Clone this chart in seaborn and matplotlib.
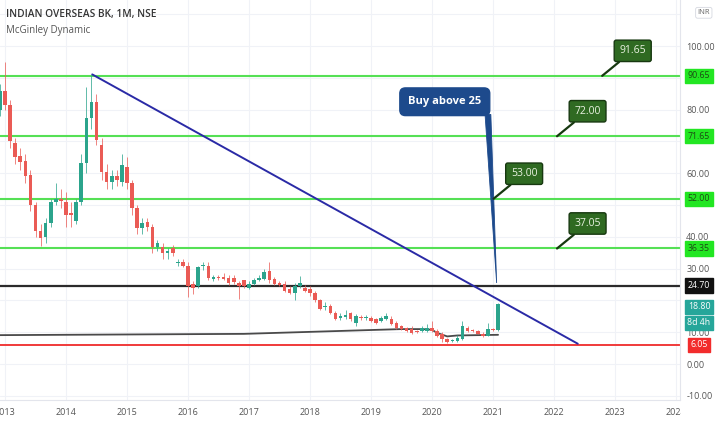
import numpy as np
import pandas as pd
import matplotlib
matplotlib.use("Agg")
import matplotlib.pyplot as plt
from matplotlib.patches import Polygon, Rectangle
import matplotlib.transforms as mtransforms
import seaborn as sns

# monthly candles, Dec 2012 .. Feb 2021
months = pd.period_range("2012-12", "2021-02", freq="M")
opens = [80, 86, 81.5, 69.5, 65.5, 64, 59.5, 50, 42, 40, 44.3, 51, 51.8,
         51, 47.6, 45, 51, 63.3, 77.5, 82.3, 69, 60.4, 57.3, 59, 57.3,
         62, 57, 49, 42.7, 44.6, 43, 36.7, 36.7, 34.8, 36.5, 31.8, 32,
         31, 25.3, 24.7, 30.8, 31, 26.8, 27.2, 27.4, 27, 27, 25.6, 26.3,
         24, 25.3, 26.3, 26.9, 29.4, 26.9, 25.3, 25.3, 23.7, 22.5, 24.7, 24,
         23.7, 22.5, 20, 17.8, 18.4, 16.1, 14.6, 14.9, 16.1, 13, 14.8, 14.5,
         14.6, 14.2, 13.6, 14.2, 14.2, 13, 12, 11.4, 11.1, 10.4, 10.4, 10.4,
         11.4, 10.4, 9.5, 7.9, 7.2, 7.3, 7.9, 11.4, 10.6, 10.4, 9.5, 8.9,
         11, 10.8]
highs = [88, 95, 83, 71, 68, 66, 61, 51, 44, 46, 52, 57, 55,
         54, 51, 52, 66, 87, 91, 85, 71, 63, 61, 61, 66,
         65, 58, 50, 46, 46, 44, 39, 38, 36.5, 37.5, 33, 33,
         32, 26, 31, 32, 32, 28, 28, 28.5, 28, 28, 26, 26.5,
         26, 27, 28, 30, 32, 27.5, 26, 26, 24.5, 25.5, 27.8, 25,
         24.5, 23, 20.5, 19.5, 19, 16.8, 16, 17, 16.5, 15.8, 15.5, 15.5,
         15, 14.6, 15, 16, 15, 13.4, 12.4, 11.8, 12, 10.8, 12, 12.5,
         13.5, 11, 10, 8.3, 8, 9, 13.6, 12, 11, 10.8, 10, 13,
         11.5, 19.2]
lows = [78, 80, 68, 63, 61, 57, 48, 40, 37, 38, 43, 50, 49,
        43, 43, 44, 50, 60, 74, 69, 58, 55, 55, 56, 56,
        55, 47, 41, 41, 42, 35, 35.5, 33, 33, 34, 31, 30.5,
        21, 22, 24, 29.5, 26.5, 26, 26.5, 26.5, 25, 25.2, 20.6, 24,
        23.5, 25, 26, 26.5, 25.5, 25, 24.5, 22.8, 22, 20, 24, 22.8,
        21.5, 19.5, 17, 17, 15.8, 13.8, 14, 14.2, 13.5, 12, 14, 14,
        13.2, 12.6, 13.2, 14, 12.3, 11, 10.8, 10, 9.5, 9.7, 10.1, 10,
        10, 8.6, 6.8, 6.6, 6.9, 7, 7.6, 10, 10.2, 9.3, 8.6, 8.7,
        10.3, 10.5]
closes = [86, 81.5, 70, 65, 63.5, 59, 50, 42, 39.5, 44.3, 51, 52, 51.3,
          47, 47, 51, 63.3, 77.5, 82.3, 70.6, 60.4, 57.3, 59, 58, 62.5,
          57, 49, 42.7, 44.3, 43, 36.7, 38, 34.8, 35.5, 35, 32.2, 31,
          24.7, 24, 30.4, 31.2, 27.2, 27.4, 27, 26.8, 25.6, 25.8, 24.7, 24.7,
          25.3, 26.3, 27.2, 28.8, 26.3, 25.3, 24.9, 23.1, 22.5, 24.7, 25.6, 23.1,
          22.2, 20, 17.4, 18.2, 16.1, 14.2, 15.2, 15.5, 14.2, 15.2, 14.5, 14.9,
          13.6, 13, 14.6, 15.2, 12.7, 11.4, 11.1, 10.4, 9.8, 10, 11.4, 11.4,
          10.4, 8.9, 7.9, 7, 7.6, 8.2, 12, 10.4, 10.4, 9.5, 8.9, 11,
          10.6, 18.8]

# McGinley Dynamic line (vertices)
mcg_months = ["2012-12", "2016-12", "2019-07", "2019-11", "2020-01",
              "2020-02", "2020-04", "2020-06", "2021-02"]
mcg_values = [9.1, 9.5, 11.0, 11.0, 10.8, 9.8, 8.7, 9.0, 9.2]

# horizontal levels and callouts
green_levels = [90.65, 71.65, 52.00, 36.35]
green_labels = ["90.65", "71.65", "52.00", "36.35"]
callout_labels = ["91.65", "72.00", "53.00", "37.05"]
callout_years = [2022.79, 2022.05, 2021.01, 2022.05]
black_level = 24.70
red_level = 6.05
last_price = 18.80

# falling trendline
trend_years = [2014.43, 2022.39]
trend_values = [91.1, 6.4]

year_ticks = list(range(2013, 2025))
price_ticks = [100, 80, 60, 40, 30, 10, 0, -10]

UP = "#2BA48C"
DN = "#EA5B55"
LIME = "#55E055"


def to_year(p):
    p = pd.Period(p, freq="M")
    return p.year + (p.month - 1) / 12


df = pd.DataFrame({"t": [to_year(m) for m in months], "open": opens,
                   "high": highs, "low": lows, "close": closes})
df["col"] = np.where(df["close"] >= df["open"], UP, DN)
df["bot"] = df[["open", "close"]].min(axis=1)
df["h"] = (df["close"] - df["open"]).abs().clip(lower=0.45)

sns.set_theme(style="white")
plt.rcParams["font.family"] = ["Open Sans", "DejaVu Sans"]

fig = plt.figure(figsize=(7.2, 4.24), dpi=100)
ax = fig.add_axes([0, 24 / 424, 680 / 720, 400 / 424])

ax.set_xlim(2012.918, 2024.066)
ax.set_ylim(-11.3, 114.5)

# grid
for y in range(-10, 111, 10):
    ax.axhline(y, color="#F0F2F7", lw=0.8, zorder=0)
for x in year_ticks:
    ax.axvline(x, color="#F0F2F7", lw=0.8, zorder=0)

# candles
ax.vlines(df["t"], df["low"], df["high"], colors=df["col"], lw=0.7, alpha=0.75, zorder=3)
ax.bar(df["t"], df["h"], bottom=df["bot"], width=0.058, color=df["col"], linewidth=0, zorder=4)

# McGinley
mcg = pd.DataFrame({"t": [to_year(m) for m in mcg_months], "v": mcg_values})
sns.lineplot(data=mcg, x="t", y="v", ax=ax, color="#4A4A4A", lw=1.3, zorder=2)

# levels
for lv in green_levels:
    ax.axhline(lv, color=LIME, lw=1.5, zorder=2)
ax.axhline(black_level, color="#2B2B2B", lw=1.6, zorder=2)
ax.axhline(red_level, color="#F03A3A", lw=1.4, zorder=2)

# trendline
ax.plot(trend_years, trend_values, color="#2A2AA6", lw=1.4, zorder=5)

# green callouts
for lab, yr, lv in zip(callout_labels, callout_years, green_levels):
    ax.annotate(lab, xy=(yr, lv), xytext=(22, 18), textcoords="offset points",
                ha="center", va="center", fontsize=7.5, color="#EAF3E2",
                bbox=dict(boxstyle="round,pad=0.5,rounding_size=0.2",
                          fc="#2F6A22", ec="#173810", lw=1.0),
                arrowprops=dict(arrowstyle="-", color="#173810", lw=1.6,
                                shrinkA=0, shrinkB=0), zorder=8)

# "Buy above 25" callout with a wedge pointer
ax.add_patch(Polygon([(2020.87, 78.5), (2020.965, 78.5), (2021.06, 25.5)],
                     closed=True, fc="#1D4A8C", ec="#1D4A8C", lw=0.6, zorder=7))
ax.text(2020.21, 82.5, "Buy above 25", ha="center", va="center", fontsize=8,
        fontweight="bold", color="white", zorder=8,
        bbox=dict(boxstyle="round,pad=0.75,rounding_size=0.5", fc="#1D4A8C", ec="#1D4A8C"))

# axes / ticks
ax.set_xticks(year_ticks)
ax.set_xticklabels([str(y) for y in year_ticks])
ax.yaxis.tick_right()
ax.set_yticks(price_ticks)
ax.set_yticklabels([f"{v:.2f}" for v in price_ticks])
ax.tick_params(axis="x", length=0, pad=5.5, labelsize=6.5, labelcolor="#555555")
ax.tick_params(axis="y", length=0, pad=4.5, labelsize=6.5, labelcolor="#555555")
ax.set_xlabel("")
ax.set_ylabel("")
for side in ["top", "left"]:
    ax.spines[side].set_visible(False)
ax.spines["right"].set_color("#E3E5EC")
ax.spines["bottom"].set_color("#E3E5EC")
ax.spines["right"].set_linewidth(0.8)
ax.spines["bottom"].set_linewidth(0.8)

# price scale labels
tr = mtransforms.blended_transform_factory(ax.transAxes, ax.transData)
xl = 1.028


def price_tag(y, text, fc, tc):
    ax.text(xl, y, text, transform=tr, ha="center", va="center", fontsize=6.3,
            color=tc, clip_on=False, zorder=9,
            bbox=dict(boxstyle="square,pad=0.3", fc=fc, ec=fc))


for lv, lab in zip(green_levels, green_labels):
    price_tag(lv, lab, "#22E622", "#1C4A14")
price_tag(black_level, f"{black_level:.2f}", "#111111", "white")
price_tag(last_price - 0.8, f"{last_price:.2f}", "#26A69A", "white")
price_tag(last_price - 5.8, "8d 4h", "#26A69A", "white")
price_tag(red_level, f"{red_level:.2f}", "#F22C2C", "white")

ax.text(1.035, 0.968, "INR", transform=ax.transAxes, ha="center", va="center",
        fontsize=5.5, color="#666666", clip_on=False,
        bbox=dict(boxstyle="round,pad=0.25", fc="white", ec="#D5D8E0", lw=0.6))

# header
ax.text(0.009, 0.965, "INDIAN OVERSEAS BK, 1M, NSE", transform=ax.transAxes,
        ha="left", va="center", fontsize=7.3, fontweight="semibold", color="#333333", zorder=9)
ax.text(0.009, 0.925, "McGinley Dynamic", transform=ax.transAxes,
        ha="left", va="center", fontsize=7, color="#555555", zorder=9)

# price scale hides the end of the time axis
fig.add_artist(Rectangle((681 / 720, 0), 39 / 720, 23 / 424, transform=fig.transFigure,
                         fc="white", ec="none", zorder=10))

fig.savefig("out.png", dpi=100)
